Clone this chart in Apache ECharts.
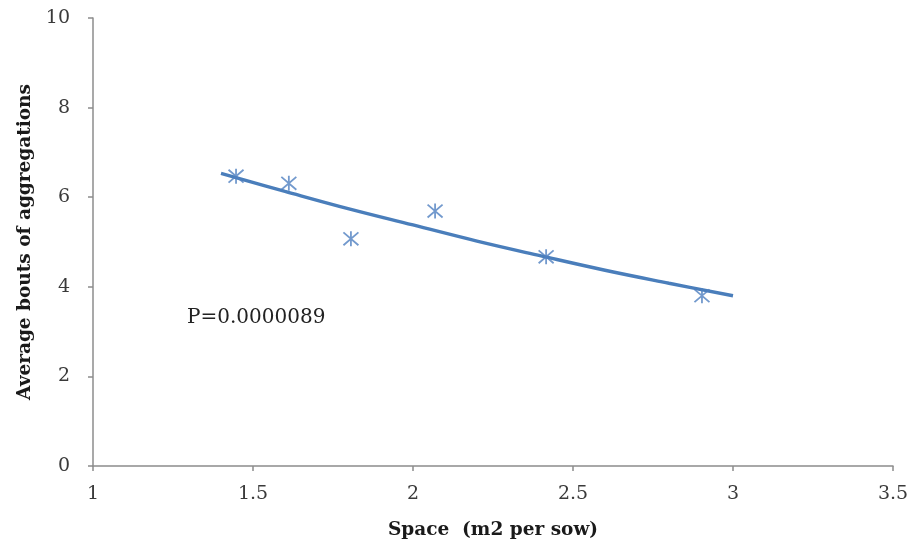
<!DOCTYPE html>
<html>
<head>
<meta charset="utf-8">
<script src="https://cdn.jsdelivr.net/npm/echarts@6/dist/echarts.min.js"></script>
<style>
  html, body { margin: 0; padding: 0; background: #fff; }
  #chart { width: 915px; height: 545px; }
</style>
</head>
<body>
<div id="chart"></div>
<script>
// Observed pens: space per sow (m2) vs. average bouts of aggregations
const spaceX = [1.447, 1.612, 1.806, 2.069, 2.416, 2.903];
const boutsY = [6.47, 6.31, 5.07, 5.69, 4.67, 3.80];

// Fitted trend curve, sampled along the x range
const trendX = [1.4, 1.6, 1.8, 2.0, 2.2, 2.4, 2.6, 2.8, 3.0];
const trendY = [6.53, 6.13, 5.74, 5.38, 5.02, 4.69, 4.37, 4.08, 3.80];

const xTicks = [1, 1.5, 2, 2.5, 3, 3.5];
const yTicks = [0, 2, 4, 6, 8, 10];

const pLabel = 'P=0.0000089';

const blue = '#4a7ebb';
const axisGrey = '#8c8c8c';
const serif = '"DejaVu Serif", "Liberation Serif", serif';

const chart = echarts.init(document.getElementById('chart'));

chart.setOption({
  animation: false,
  backgroundColor: '#fff',
  grid: { left: 93, right: 22, top: 18, bottom: 77 },
  xAxis: {
    type: 'value',
    min: xTicks[0],
    max: xTicks[xTicks.length - 1],
    interval: 0.5,
    name: 'Space  (m2 per sow)',
    nameLocation: 'middle',
    nameGap: 55,
    nameTextStyle: { fontFamily: serif, fontWeight: 'bold', fontSize: 18.5, color: '#1a1a1a' },
    axisLine: { lineStyle: { color: axisGrey, width: 1.5 } },
    axisTick: { show: true, length: 5, lineStyle: { color: axisGrey, width: 1.5 } },
    axisLabel: { fontFamily: serif, fontSize: 19, color: '#3a3a3a', margin: 19 },
    splitLine: { show: false }
  },
  yAxis: {
    type: 'value',
    min: yTicks[0],
    max: yTicks[yTicks.length - 1],
    interval: 2,
    name: 'Average bouts of aggregations',
    nameLocation: 'middle',
    nameGap: 52,
    nameRotate: 90,
    nameTextStyle: { fontFamily: serif, fontWeight: 'bold', fontSize: 18.5, color: '#1a1a1a' },
    axisLine: { show: true, lineStyle: { color: axisGrey, width: 1.5 } },
    axisTick: { show: true, length: 5, lineStyle: { color: axisGrey, width: 1.5 } },
    axisLabel: { fontFamily: serif, fontSize: 19, color: '#3a3a3a', margin: 23 },
    splitLine: { show: false }
  },
  graphic: [{
    type: 'text',
    left: 187,
    top: 308,
    style: { text: pLabel, font: '20px ' + serif, fill: '#222' }
  }],
  series: [
    {
      type: 'line',
      data: trendX.map((x, i) => [x, trendY[i]]),
      smooth: 0.4,
      showSymbol: false,
      lineStyle: { color: blue, width: 3.4 },
      z: 2
    },
    {
      type: 'scatter',
      data: spaceX.map((x, i) => [x, boutsY[i]]),
      symbol: 'path://M0,-7L0,7M-6,-6L6,6M-6,6L6,-6',
      symbolSize: 15,
      itemStyle: { color: 'rgba(0,0,0,0)', borderColor: '#4f7fc0', borderWidth: 1.8 },
      z: 3
    }
  ]
});
</script>
</body>
</html>
